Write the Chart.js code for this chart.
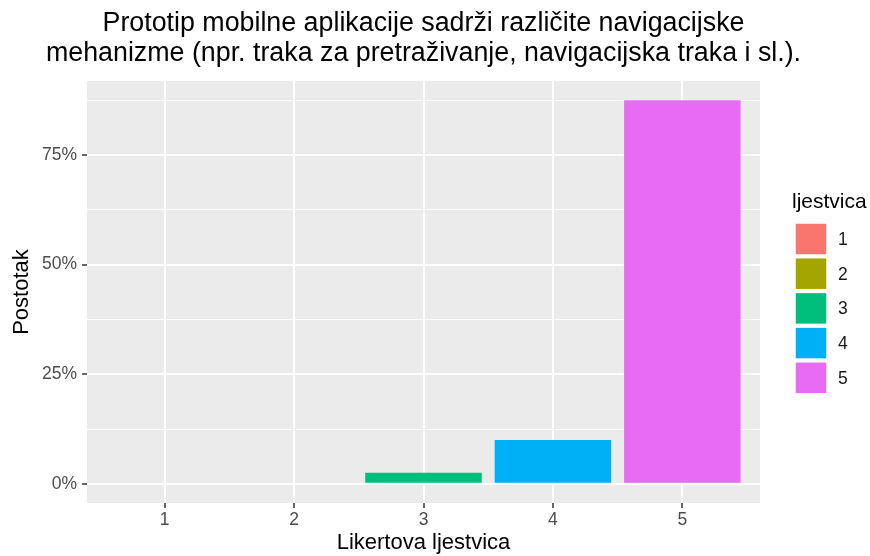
<!DOCTYPE html>
<html>
<head>
<meta charset="utf-8">
<script src="https://cdn.jsdelivr.net/npm/chart.js@4"></script>
<style>
  body { margin: 0; background: #ffffff; }
  #wrap { width: 870px; height: 556px; }
</style>
</head>
<body>
<div id="wrap"><canvas id="c" width="870" height="556"></canvas></div>
<script>
// data
const categories = ['1', '2', '3', '4', '5'];
const percentages = [0, 0, 2.5, 10, 87.5];
const barColors = ['#F8766D', '#A3A500', '#00BF7D', '#00B0F6', '#E76BF3'];
const yMajorTicks = [0, 25, 50, 75];
const yMinorTicks = [12.5, 37.5, 62.5, 87.5];
const titleLines = [
    'Prototip mobilne aplikacije sadrži različite navigacijske',
    'mehanizme (npr. traka za pretraživanje, navigacijska traka i sl.).'
];

const FONT = "'Liberation Sans', Arial, sans-serif";
const maxVal = Math.max(...percentages);
const pad = maxVal * 0.05;

// grey ggplot panel behind the bars
const panelBg = {
    id: 'panelBg',
    beforeDraw(chart) {
        const a = chart.chartArea;
        const ctx = chart.ctx;
        ctx.save();
        ctx.fillStyle = '#EBEBEB';
        ctx.fillRect(a.left, a.top, a.right - a.left, a.bottom - a.top);
        ctx.restore();
    }
};

// legend drawn to the right, ggplot style
const sideLegend = {
    id: 'sideLegend',
    afterDraw(chart) {
        const ctx = chart.ctx;
        const x0 = 795, top = 223, size = 32, step = 34.7;
        ctx.save();
        ctx.fillStyle = '#000000';
        ctx.font = '21px ' + FONT;
        ctx.textBaseline = 'middle';
        ctx.textAlign = 'left';
        ctx.fillText('ljestvica', 792, 202);
        ctx.font = '17.5px ' + FONT;
        categories.forEach((c, i) => {
            const y = top + i * step;
            ctx.fillStyle = barColors[i];
            ctx.fillRect(x0, y, size, size);
            ctx.strokeStyle = '#ffffff';
            ctx.lineWidth = 1.5;
            ctx.strokeRect(x0, y, size, size);
            ctx.fillStyle = '#1a1a1a';
            ctx.fillText(c, 838, y + size / 2 + 1);
        });
        ctx.restore();
    }
};

const ctx = document.getElementById('c').getContext('2d');
new Chart(ctx, {
    type: 'bar',
    data: {
        datasets: [{
            label: 'ljestvica',
            data: categories.map((c, i) => ({ x: i + 1, y: percentages[i] })),
            backgroundColor: barColors,
            borderWidth: 0,
            barPercentage: 0.9,
            categoryPercentage: 1.0
        }]
    },
    options: {
        responsive: false,
        animation: false,
        layout: { padding: { left: 9, right: 32, top: 0, bottom: 0 } },
        plugins: {
            legend: { display: false },
            tooltip: { enabled: false },
            title: {
                display: true,
                text: titleLines,
                color: '#000000',
                font: { family: FONT, size: 26.8, weight: 'normal', lineHeight: 1.11 },
                padding: { top: 9, bottom: 12.5 }
            }
        },
        scales: {
            x: {
                type: 'linear',
                offset: false,
                min: 0.4,
                max: 5.6,
                afterBuildTicks: s => { s.ticks = categories.map((c, i) => ({ value: i + 1 })); },
                afterFit: s => { s.height = 53; },
                ticks: {
                    color: '#4D4D4D',
                    font: { family: FONT, size: 17.5 },
                    padding: 1.5,
                    callback: (v) => categories[Math.round(v) - 1]
                },
                grid: { offset: false, color: '#ffffff', lineWidth: 2, tickLength: 5, tickColor: '#333333', tickWidth: 1.5 },
                border: { display: false },
                title: {
                    display: true,
                    text: 'Likertova ljestvica',
                    color: '#000000',
                    font: { family: FONT, size: 22 },
                    padding: { top: 0, bottom: 0 }
                }
            },
            y: {
                min: -pad,
                max: maxVal + pad,
                afterBuildTicks: s => {
                    s.ticks = yMajorTicks.concat(yMinorTicks).sort((a, b) => a - b).map(v => ({ value: v }));
                },
                afterFit: s => { s.width = 78; },
                ticks: {
                    color: '#4D4D4D',
                    font: { family: FONT, size: 17.5 },
                    padding: 5,
                    callback: (v) => yMajorTicks.includes(v) ? v + '%' : ''
                },
                grid: {
                    color: '#ffffff',
                    lineWidth: c => yMajorTicks.includes(c.tick.value) ? 2 : 1,
                    tickLength: 5,
                    tickColor: c => yMajorTicks.includes(c.tick.value) ? '#333333' : 'rgba(0,0,0,0)',
                    tickWidth: 1.5
                },
                border: { display: false },
                title: {
                    display: true,
                    text: 'Postotak',
                    color: '#000000',
                    font: { family: FONT, size: 22 },
                    padding: { top: 0, bottom: 0 }
                }
            },
            // empty right-hand box that leaves room for the legend
            legendSpace: {
                type: 'linear',
                position: 'right',
                min: 0,
                max: 1,
                afterFit: s => { s.width = 78; },
                ticks: { display: false },
                grid: { display: false },
                border: { display: false }
            }
        }
    },
    plugins: [panelBg, sideLegend]
});
</script>
</body>
</html>
